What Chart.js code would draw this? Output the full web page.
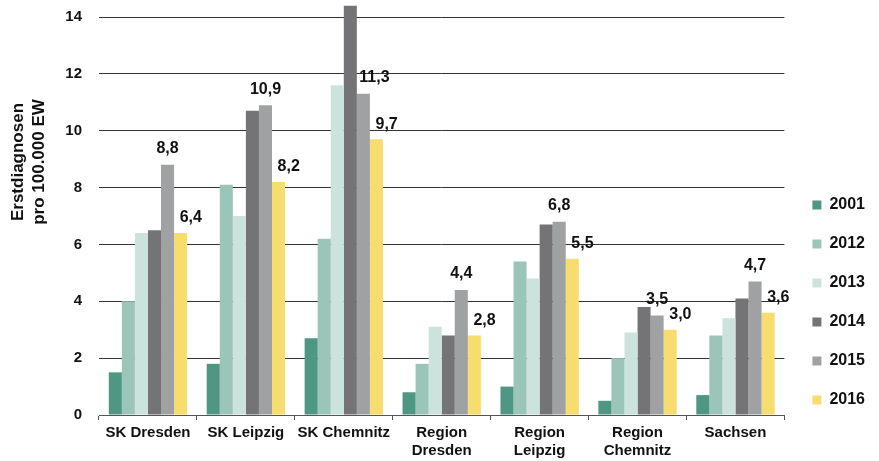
<!DOCTYPE html>
<html>
<head>
<meta charset="utf-8">
<script src="https://cdn.jsdelivr.net/npm/chart.js@4.4.1/dist/chart.umd.min.js"></script>
<style>
  html, body { margin: 0; padding: 0; background: #fff; }
  #wrap { width: 879px; height: 461px; }
</style>
</head>
<body>
<div id="wrap"><canvas id="c" width="879" height="461"></canvas></div>
<script>
// Categories and yearly rates (Erstdiagnosen pro 100.000 EW)
const regions = [['SK Dresden'], ['SK Leipzig'], ['SK Chemnitz'], ['Region', 'Dresden'], ['Region', 'Leipzig'], ['Region', 'Chemnitz'], ['Sachsen']];
const years = ['2001', '2012', '2013', '2014', '2015', '2016'];
const v2001 = [1.5, 1.8, 2.7, 0.8, 1.0, 0.5, 0.7];
const v2012 = [4.0, 8.1, 6.2, 1.8, 5.4, 2.0, 2.8];
const v2013 = [6.4, 7.0, 11.6, 3.1, 4.8, 2.9, 3.4];
const v2014 = [6.5, 10.7, 14.4, 2.8, 6.7, 3.8, 4.1];
const v2015 = [8.8, 10.9, 11.3, 4.4, 6.8, 3.5, 4.7];
const v2016 = [6.4, 8.2, 9.7, 2.8, 5.5, 3.0, 3.6];
const yTicks = [0, 2, 4, 6, 8, 10, 12, 14];
const axisCaption = ['Erstdiagnosen', 'pro 100.000 EW'];

const series = [v2001, v2012, v2013, v2014, v2015, v2016];
const colors = ['#4f9683', '#9bc5b9', '#cce2dc', '#747476', '#a0a1a3', '#f7dc6e'];
const FONT = '"Liberation Sans", Arial, Helvetica, sans-serif';

Chart.defaults.font.family = FONT;
Chart.defaults.color = '#111';

const fmt = v => v.toFixed(1).replace('.', ',');

// Value labels for the 2015 and 2016 bars
const valueLabels = {
  id: 'valueLabels',
  afterDatasetsDraw(chart) {
    const ctx = chart.ctx;
    const m14 = chart.getDatasetMeta(3);
    const m15 = chart.getDatasetMeta(4);
    const m16 = chart.getDatasetMeta(5);
    ctx.save();
    ctx.font = 'bold 16px ' + FONT;
    ctx.fillStyle = '#111';
    ctx.textAlign = 'center';
    ctx.textBaseline = 'middle';
    m15.data.forEach((bar, i) => {
      const y = bar.y - 16;
      // step aside when the taller 2014 bar would run through the label
      const x = m14.data[i].y < y ? bar.x + bar.width * 0.85 : bar.x;
      ctx.fillText(fmt(v2015[i]), x, y);
    });
    m16.data.forEach((bar, i) => {
      ctx.fillText(fmt(v2016[i]), bar.x + bar.width * 0.78, bar.y - 15);
    });
    ctx.restore();
  }
};

// Two-line rotated caption of the value axis
const valueAxisCaption = {
  id: 'valueAxisCaption',
  afterDraw(chart) {
    const ctx = chart.ctx;
    const area = chart.chartArea;
    ctx.save();
    ctx.font = 'bold 17px ' + FONT;
    ctx.fillStyle = '#111';
    ctx.textAlign = 'center';
    ctx.textBaseline = 'middle';
    axisCaption.forEach((line, k) => {
      ctx.save();
      ctx.translate(area.left - 80.5 + k * 21, area.top + 145);
      ctx.rotate(-Math.PI / 2);
      ctx.fillText(line, 0, 0);
      ctx.restore();
    });
    ctx.restore();
  }
};

new Chart(document.getElementById('c'), {
  type: 'bar',
  data: {
    labels: regions,
    datasets: years.map((y, k) => ({
      label: y,
      data: series[k],
      backgroundColor: colors[k],
      borderWidth: 0,
      categoryPercentage: 0.8,
      barPercentage: 1.0,
      clip: false
    }))
  },
  options: {
    responsive: false,
    animation: false,
    devicePixelRatio: 1,
    layout: { padding: { top: 17, right: 4, bottom: 0, left: 0 } },
    plugins: {
      tooltip: { enabled: false },
      legend: {
        position: 'right',
        align: 'start',
        // empty title block keeps the key low, next to the lower half of the plot
        title: { display: true, text: '', font: { size: 10, lineHeight: 1 }, padding: { top: 147, bottom: 0 } },
        labels: {
          boxWidth: 9,
          boxHeight: 9,
          padding: 23,
          color: '#111',
          font: { size: 16, weight: 'bold' }
        }
      }
    },
    scales: {
      x: {
        grid: {
          offset: true,
          drawOnChartArea: false,
          drawTicks: true,
          tickLength: 5,
          color: '#555'
        },
        border: { display: true, color: '#555', width: 1 },
        ticks: {
          color: '#111',
          padding: 4,
          maxRotation: 0,
          autoSkip: false,
          font: { size: 15, weight: 'bold', lineHeight: 1.2 }
        },
        afterFit(s) { s.height = 46; }
      },
      y: {
        min: 0,
        max: 14,
        grid: { color: '#333', lineWidth: 1, drawTicks: true, tickLength: 15, tickColor: 'rgba(0,0,0,0)' },
        border: { display: false },
        ticks: {
          color: '#111',
          padding: 2,
          font: { size: 15, weight: 'bold' }
        },
        afterBuildTicks(s) { s.ticks = yTicks.map(v => ({ value: v })); },
        afterFit(s) { s.width = 99; }
      },
      gap: {
        type: 'linear',
        position: 'right',
        display: true,
        grid: { display: false },
        border: { display: false },
        ticks: { display: false },
        afterFit(s) { s.width = 5; }
      }
    }
  },
  plugins: [valueLabels, valueAxisCaption]
});
</script>
</body>
</html>
